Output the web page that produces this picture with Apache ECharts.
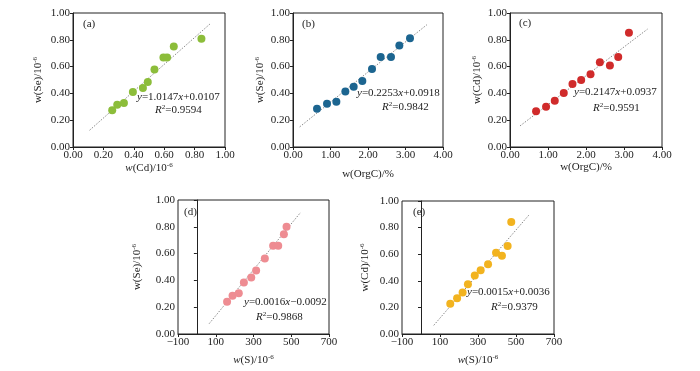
<!DOCTYPE html>
<html><head><meta charset="utf-8">
<script src="https://cdn.jsdelivr.net/npm/echarts@6/dist/echarts.min.js"></script>
<style>html,body{margin:0;padding:0;background:#fff}#c{width:700px;height:371px}</style>
</head><body><div id="c"></div>
<script>
// ---- data ----
const cdA = [0.258,0.291,0.335,0.394,0.46,0.492,0.536,0.595,0.619,0.663,0.845];
const seA = [0.275,0.315,0.328,0.41,0.44,0.485,0.578,0.668,0.668,0.75,0.808];
const orgB = [0.64,0.907,1.156,1.396,1.618,1.849,2.107,2.338,2.613,2.836,3.12];
const seB = [0.285,0.3225,0.3375,0.415,0.45,0.4925,0.5825,0.6725,0.6725,0.7575,0.8125];
const orgC = [0.686,0.949,1.178,1.415,1.644,1.873,2.119,2.365,2.629,2.848,3.13];
const cdC = [0.2675,0.30,0.345,0.4025,0.47,0.50,0.5425,0.6325,0.6075,0.6725,0.8525];
const sD = [160,189,222,249,288,314,360,404,431,461,475];
const seD = [0.241,0.285,0.305,0.385,0.422,0.474,0.563,0.658,0.658,0.744,0.80];
const sE = [154,190,219,247,283,314,353,395,426,456,475];
const cdE = [0.227,0.269,0.312,0.374,0.439,0.479,0.524,0.611,0.589,0.661,0.843];
// trend line end points
const trendAx = [0.109,0.908], trendAy = [0.125,0.925];
const trendBx = [0.178,3.57],  trendBy = [0.15,0.9125];
const trendCx = [0.264,3.62],  trendCy = [0.1575,0.88];
const trendDx = [65,550],      trendDy = [0.077,0.908];
const trendEx = [67,567],      trendEy = [0.065,0.893];
// tick labels
const yTicks = [0,0.2,0.4,0.6,0.8,1.0];
const xTicksA = [0,0.2,0.4,0.6,0.8,1.0];
const xTicksBC = [0,1,2,3,4];
const xTicksS = [-100,100,300,500,700];
const panelTags = ['(a)','(b)','(c)','(d)','(e)'];
const eqs = [['1.0147','+0.0107','0.9594'],['0.2253','+0.0918','0.9842'],['0.2147','+0.0937','0.9591'],['0.0016','\u22120.0092','0.9868'],['0.0015','+0.0036','0.9379']];
const colors = ['#8cbd3a','#1c6590','#d02b2b','#ee8c92','#f2b31f'];

const FONT = '"Liberation Serif","Times New Roman",serif';
const rich = {
  i:{fontStyle:'italic',fontFamily:FONT,fontSize:11,color:'#222'},
  n:{fontFamily:FONT,fontSize:11,color:'#222'},
  sup:{fontFamily:FONT,fontSize:7,color:'#222',verticalAlign:'top',padding:[0,0,5,0]}
};
const grids = [
  {left:73,top:13,width:152,height:134},
  {left:293,top:13,width:150,height:134},
  {left:510,top:13,width:152,height:134},
  {left:178,top:200,width:151,height:134},
  {left:402,top:201,width:152,height:133}
];
const fmt2 = v => v.toFixed(2);
const fmtS = v => v < 0 ? '\u2212' + Math.abs(v) : String(v);
const xNames = ['{i|w}{n|(Cd)/10}{sup|-6}','{n|w(OrgC)/%}','{n|w(OrgC)/%}','{i|w}{n|(S)/10}{sup|-6}','{i|w}{n|(S)/10}{sup|-6}'];
const yNames = ['{n|w(Se)/10}{sup|-6}','{n|w(Se)/10}{sup|-6}','{n|w(Cd)/10}{sup|-6}','{n|w(Se)/10}{sup|-6}','{n|w(Cd)/10}{sup|-6}'];
const xGaps = [14,22,14,20,20];
const yGaps = [29,27,27,35,31];
const xCfg = [
  {min:0,max:1,ticks:xTicksA,f:fmt2},
  {min:0,max:4,ticks:xTicksBC,f:fmt2},
  {min:0,max:4,ticks:xTicksBC,f:fmt2},
  {min:-100,max:700,ticks:xTicksS,f:fmtS},
  {min:-100,max:700,ticks:xTicksS,f:fmtS}
];
const axisLine = {show:true,lineStyle:{color:'#222',width:1}};
const labelStyle = {fontFamily:FONT,fontSize:11,color:'#222'};

const xAxis = xCfg.map((c,i)=>({
  gridIndex:i,type:'value',min:c.min,max:c.max,
  axisLine,axisTick:{show:true,length:3,inside:false,customValues:c.ticks,lineStyle:{color:'#222'}},
  axisLabel:Object.assign({margin:3,customValues:c.ticks,formatter:c.f},labelStyle),
  splitLine:{show:false},
  name:xNames[i],nameLocation:'middle',nameGap:xGaps[i],nameTextStyle:{rich}
}));
const yAxis = grids.map((g,i)=>({
  gridIndex:i,type:'value',min:0,max:1,
  axisLine,axisTick:{show:true,length:3,customValues:yTicks,lineStyle:{color:'#222'}},
  axisLabel:Object.assign({margin:3,customValues:yTicks,formatter:fmt2},labelStyle),
  splitLine:{show:false},
  name:yNames[i],nameLocation:'middle',nameGap:yGaps[i],nameRotate:90,nameTextStyle:{rich}
}));
const pts = [[cdA,seA],[orgB,seB],[orgC,cdC],[sD,seD],[sE,cdE]];
const trends = [[trendAx,trendAy],[trendBx,trendBy],[trendCx,trendCy],[trendDx,trendDy],[trendEx,trendEy]];
const series = [];
trends.forEach((t,i)=>{
  series.push({type:'line',xAxisIndex:i,yAxisIndex:i,symbol:'none',silent:true,
    data:t[0].map((x,k)=>[x,t[1][k]]),
    lineStyle:{color:'#8a8a8a',width:1,type:[1.5,1.5]},z:1});
});
pts.forEach((p,i)=>{
  series.push({type:'scatter',xAxisIndex:i,yAxisIndex:i,symbolSize:8,
    itemStyle:{color:colors[i],opacity:1},
    data:p[0].map((x,k)=>[x,p[1][k]]),z:3});
});
// annotation positions (pixel)
const tagPos = [[83,19],[302,19],[519,18],[184,207],[413,207]];
const eqPos = [[137,92],[357,88],[574,87],[244,297],[467,287]];
const r2Pos = [[155,104],[382,101],[593,102],[256,311],[491,301]];
const graphic = [];
panelTags.forEach((t,i)=>graphic.push({type:'text',left:tagPos[i][0],top:tagPos[i][1],
  style:{text:t,font:'11px '+FONT,fill:'#222'}}));
const gRich = {
  i:{fontStyle:'italic',fontFamily:FONT,fontSize:11,fill:'#222'},
  n:{fontFamily:FONT,fontSize:11,fill:'#222'},
  sup:{fontFamily:FONT,fontSize:7,fill:'#222',verticalAlign:'top',padding:[0,0,5,0]}
};
eqs.forEach((e,i)=>{
  graphic.push({type:'text',left:eqPos[i][0],top:eqPos[i][1],z:10,
    style:{text:'{i|y}{n|='+e[0]+'}{i|x}{n|'+e[1]+'}',rich:gRich}});
  graphic.push({type:'text',left:r2Pos[i][0],top:r2Pos[i][1],z:10,
    style:{text:'{i|R}{sup|2}{n|='+e[2]+'}',rich:gRich}});
});

const chart = echarts.init(document.getElementById('c'),null,{renderer:'canvas'});
chart.setOption({
  animation:false,
  backgroundColor:'#fff',
  grid:grids.map(g=>Object.assign({show:true,borderColor:'#222',borderWidth:1,backgroundColor:'transparent'},g)),
  xAxis,yAxis,series,graphic
});
</script></body></html>
